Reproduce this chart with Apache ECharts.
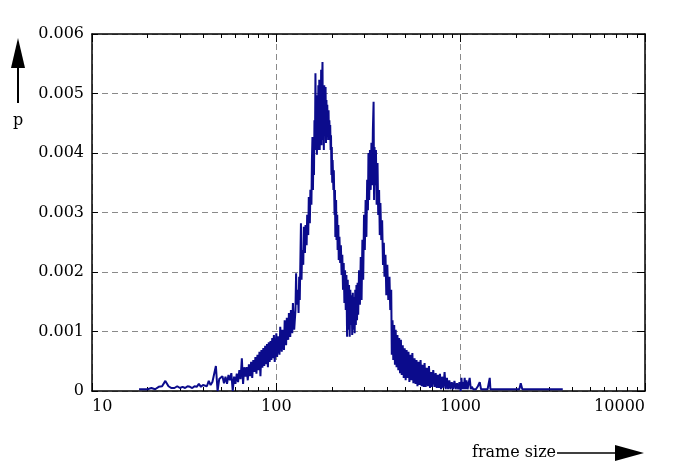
<!DOCTYPE html>
<html>
<head>
<meta charset="utf-8">
<script src="https://cdn.jsdelivr.net/npm/echarts@6/dist/echarts.min.js"></script>
<style>
html,body{margin:0;padding:0;background:#fff;}
#c{width:698px;height:472px;}
</style>
</head>
<body>
<div id="c"></div>
<script>
// ---- data ----
const frameSize = [
  18,19,20,21,22,23,24,25,26,27,28,29,30,31,32,33,34,35,36,37,38,39,40,41,42,43,44,45,46,47,
  48,49,50,51,52,53,54,55,56,57,58,59,60,61,62,63,64,65,66,67,68,69,70,71,72,73,74,75,76,77,
  78,79,80,81,82,83,84,85,86,87,88,89,90,91,92,93,94,95,96,97,98,100,101,102,104,105,107,108,110,111,
  113,114,116,117,119,120,122,123,125,127,128,129,131,132,133,134,136,137,138,140,141,143,144,146,147,149,150,152,153,155,
  156,157,158,159,160,161,162,163,164,165,166,167,168,169,170,171,172,173,174,175,176,177,178,179,180,181,182,183,184,185,
  186,187,188,189,190,192,193,194,195,196,197,198,199,200,201,202,204,205,207,208,209,211,212,214,215,217,218,220,222,224,
  226,228,230,232,234,236,238,240,242,244,246,248,250,252,254,256,258,260,262,264,266,268,270,272,274,276,278,281,284,287,
  290,293,296,299,302,305,308,311,314,316,319,322,325,328,331,334,337,339,341,344,347,350,354,357,361,364,367,371,375,379,
  383,386,391,395,400,405,411,415,420,423,427,431,436,440,444,449,454,459,464,469,474,479,485,491,497,503,509,515,521,527,
  533,540,547,554,562,569,576,583,590,598,606,614,622,630,637,646,655,664,673,682,691,700,710,722,732,742,752,762,772,782,
  793,805,818,830,842,855,868,881,895,910,925,940,955,970,985,1000,1010,1020,1030,1040,1051,1062,1075,1090,1105,1119,1135,1150,1170,1190,
  1210,1240,1269,1290,1320,1360,1400,1438,1450,1500,1700,1900,2080,2118,2160,2500,3000,3580
];
const prob = [
  0.00003,0.00003,0.00003,0.00005,0.00003,0.00007,0.00008,0.00017,0.00008,0.00005,0.00005,0.00008,0.00005,0.00007,0.00005,0.00008,0.00007,0.00005,0.00008,0.00007,0.00012,0.00007,0.0001,0.00013,0.00008,0.00017,0.0001,0.00015,0.00012,0.00042,
  0,0.0002,0.00017,0.00025,0.00013,0.00024,0.00012,0.00027,0.00018,0.0003,0,0.00024,0.00012,0.00029,0.00015,0.00035,0.0002,0.00055,0.00012,0.0004,0.00024,0.0004,0.00018,0.00045,0.00025,0.00049,0.00022,0.00052,0.00032,0.00057,
  0.00029,0.00061,0.00035,0.00066,0.00025,0.00069,0.00039,0.00072,0.00042,0.00076,0.00045,0.00079,0.0004,0.00082,0.00049,0.00084,0.00052,0.00089,0.00055,0.00094,0.00049,0.00097,0.00057,0.00092,0.00061,0.00108,0.00066,0.00103,0.00069,0.00119,
  0.00077,0.00123,0.00086,0.00131,0.00091,0.00136,0.00097,0.00148,0.00103,0.00136,0.00198,0.00145,0.0017,0.00131,0.00192,0.00153,0.00282,0.00187,0.00237,0.00212,0.00276,0.00232,0.00279,0.00245,0.00296,0.00262,0.00326,0.00282,0.00338,0.00313,
  0.00388,0.00427,0.00338,0.00405,0.00363,0.00455,0.00405,0.00534,0.00422,0.00472,0.00397,0.00497,0.00405,0.00514,0.00413,0.00523,0.00405,0.00489,0.00422,0.0054,0.00413,0.00506,0.00553,0.00422,0.00497,0.00405,0.00514,0.0043,0.00489,0.00511,
  0.00417,0.00489,0.00422,0.00481,0.0043,0.00472,0.00422,0.00455,0.00422,0.00447,0.00405,0.0043,0.00363,0.0041,0.0035,0.00388,0.00338,0.00371,0.00296,0.00338,0.00259,0.00321,0.00254,0.00296,0.00237,0.00279,0.0022,0.00259,0.00215,0.00245,
  0.00195,0.00229,0.0017,0.00215,0.00148,0.00203,0.00136,0.00195,0.00091,0.00187,0.00103,0.00178,0.00091,0.0017,0.00111,0.00161,0.00094,0.00165,0.00103,0.00158,0.00097,0.0017,0.00111,0.00178,0.00119,0.00182,0.00128,0.00203,0.00145,0.00225,
  0.00153,0.00254,0.00187,0.00296,0.00237,0.00321,0.00259,0.00355,0.00304,0.004,0.00321,0.00405,0.00338,0.00417,0.00346,0.00439,0.00486,0.00321,0.0041,0.00346,0.00405,0.00313,0.00383,0.00296,0.00338,0.00262,0.00316,0.00254,0.00287,0.00212,
  0.00249,0.00192,0.00229,0.00161,0.00212,0.00153,0.00192,0.00136,0.0017,0.00061,0.00119,0.00052,0.00111,0.00044,0.00103,0.0004,0.00094,0.00035,0.00089,0.0003,0.00086,0.00027,0.00077,0.00022,0.00072,0.00018,0.00069,0.00022,0.00066,0.00015,
  0.00061,0.00018,0.00064,0.00013,0.00055,0.00012,0.00052,0.00008,0.00049,0.0001,0.00052,0.00008,0.00044,0.00007,0.00047,0.00007,0.00039,0.00008,0.00042,0.00005,0.00032,0.00007,0.00035,0.00007,0.0003,0.00005,0.00027,0.00005,0.00029,0.00003,
  0.00024,0.00005,0.00032,0.00003,0.00022,0.00003,0.00018,0.00003,0.00015,0.00003,0.00017,0.00003,0.00013,0.00003,0.00015,0,0.00022,0.00003,0.00015,0.00003,0.00022,0.00003,0.00018,0.00003,0.00013,0.00022,0.00003,0.00007,0.00003,0.00005,
  0.00003,0.00008,0.00015,0.00003,0.00005,0.00003,0.00003,0.00022,0.00003,0.00003,0.00003,0.00003,0.00003,0.00013,0.00003,0.00003,0.00003,0.00003
];
const xTickLabels = ['10','100','1000','10000'];
const yTickLabels = ['0','0.001','0.002','0.003','0.004','0.005','0.006'];
const xMinorValues = [20,30,40,50,60,70,80,90,200,300,400,500,600,700,800,900,2000,3000,4000,5000,6000,7000,8000,9000];

const FONT = 'DejaVu Serif';
const chart = echarts.init(document.getElementById('c'), null, {renderer:'canvas'});
const seriesData = frameSize.map((f,i)=>[f, prob[i]]);

const frameLine = {show:true, onZero:false, lineStyle:{color:'#000', width:1.5}};
const gridDash = {show:true, lineStyle:{color:'#8a8a8a', width:1, type:[6,4]}};

chart.setOption({
  animation:false,
  backgroundColor:'#fff',
  grid:{left:92, right:53, top:34, bottom:81, containLabel:false},
  xAxis:[
    {type:'log', logBase:10, min:10, max:10000, position:'bottom',
     axisLine:frameLine,
     axisTick:{show:true, inside:true, length:8, lineStyle:{color:'#000', width:1}},
     axisLabel:{show:true, margin:8, color:'#000', fontFamily:FONT, fontSize:16,
       alignMinLabel:'left', alignMaxLabel:'right',
       formatter:(v)=>{const i=Math.round(Math.log10(v))-1; return xTickLabels[i]||'';}},
     splitLine:gridDash},
    {type:'log', logBase:10, min:10, max:10000, position:'top',
     axisLine:frameLine,
     axisTick:{show:true, inside:true, length:8, lineStyle:{color:'#000', width:1}},
     axisLabel:{show:false}, splitLine:{show:false}}
  ],
  yAxis:[
    {type:'value', min:0, max:0.006, interval:0.001, position:'left',
     axisLine:frameLine,
     axisTick:{show:true, inside:true, length:6, lineStyle:{color:'#000', width:1}},
     axisLabel:{show:true, margin:8, color:'#000', fontFamily:FONT, fontSize:16,
       formatter:(v)=>yTickLabels[Math.round(v*1000)]},
     splitLine:gridDash},
    {type:'value', min:0, max:0.006, interval:0.001, position:'right',
     axisLine:frameLine,
     axisTick:{show:true, inside:true, length:8, lineStyle:{color:'#000', width:1}},
     axisLabel:{show:false}, splitLine:{show:false}}
  ],
  series:[{
    type:'line', data:seriesData, xAxisIndex:0, yAxisIndex:0,
    showSymbol:false, symbol:'none', smooth:false,
    lineStyle:{color:'#0b0b8c', width:2},
    z:3
  }]
});

// minor log ticks and decorations
const yBottom = chart.convertToPixel({yAxisIndex:0}, 0);
const yTop = chart.convertToPixel({yAxisIndex:0}, 0.006);
const g = [];
xMinorValues.forEach(v=>{
  const x = Math.round(chart.convertToPixel({xAxisIndex:0}, v))+0.5;
  g.push({type:'line', silent:true, shape:{x1:x, y1:yBottom, x2:x, y2:yBottom-4}, style:{stroke:'#000', lineWidth:1}});
  g.push({type:'line', silent:true, shape:{x1:x, y1:yTop, x2:x, y2:yTop+4}, style:{stroke:'#000', lineWidth:1}});
});
// y "p" arrow
g.push({type:'line', silent:true, shape:{x1:18, y1:103, x2:18, y2:66}, style:{stroke:'#000', lineWidth:2}});
g.push({type:'polygon', silent:true, shape:{points:[[11,68],[25,68],[18,38]]}, style:{fill:'#000'}});
g.push({type:'text', silent:true, x:18, y:121, style:{text:'p', fill:'#000', font:'16px "DejaVu Serif"', align:'center', verticalAlign:'middle'}});
// x "frame size" arrow
g.push({type:'text', silent:true, x:472, y:453, style:{text:'frame size', fill:'#000', font:'16px "DejaVu Serif"', align:'left', verticalAlign:'middle'}});
g.push({type:'line', silent:true, shape:{x1:557, y1:453, x2:618, y2:453}, style:{stroke:'#000', lineWidth:1.5}});
g.push({type:'polygon', silent:true, shape:{points:[[615,445],[615,461],[644,453]]}, style:{fill:'#000'}});
chart.setOption({graphic:g});
</script>
</body>
</html>
